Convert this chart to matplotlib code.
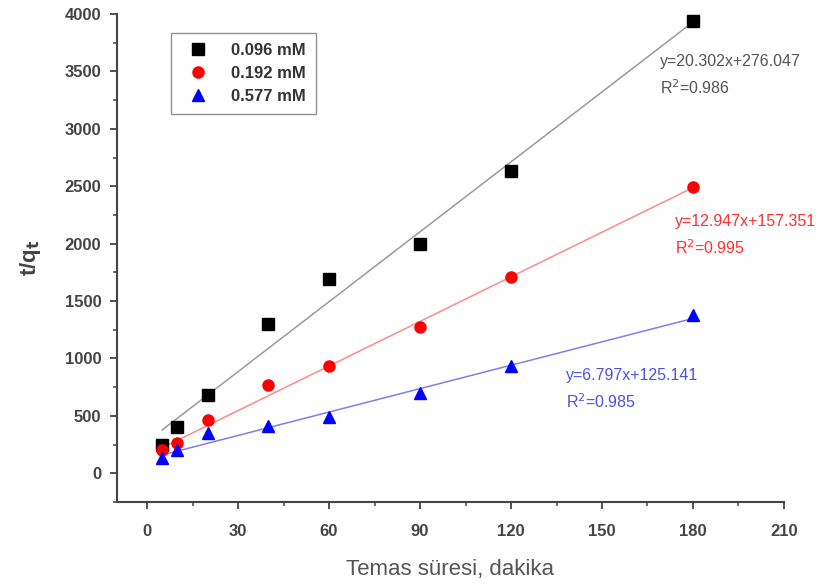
import numpy as np
import matplotlib
matplotlib.use("Agg")
import matplotlib.pyplot as plt
from matplotlib.ticker import MultipleLocator

plt.rcParams["font.family"] = ["Liberation Sans", "DejaVu Sans"]

# contact time, minutes
time_min = [5, 10, 20, 40, 60, 90, 120, 180]

# t/qt values
tq_0096 = [250, 400, 680, 1300, 1690, 2000, 2630, 3940]
tq_0192 = [200, 260, 460, 770, 930, 1270, 1710, 2490]
tq_0577 = [130, 200, 350, 410, 490, 700, 930, 1380]

labels = ["0.096 mM", "0.192 mM", "0.577 mM"]
slopes = [20.302, 12.947, 6.797]
intercepts = [276.047, 157.351, 125.141]
r2 = ["0.986", "0.995", "0.985"]

fig = plt.figure(figsize=(8.34, 5.85), dpi=100)
ax = fig.add_axes([0.140, 0.142, 0.800, 0.834])

series = [tq_0096, tq_0192, tq_0577]
markers = ["s", "o", "^"]
colors = ["black", "red", "blue"]
fit_colors = ["#9a9a9a", "#ff8a8a", "#8080e8"]
text_colors = ["#555555", "#ff3030", "#5050e0"]
text_pos = [(169, 3583, 3357), (174, 2191, 1965), (138, 852, 626)]

for ys, m, c, fc, tc, lab, a, b, r, tp in zip(series, markers, colors, fit_colors,
                                              text_colors, labels, slopes, intercepts,
                                              r2, text_pos):
    xs = np.array([time_min[0], time_min[-1]])
    ax.plot(xs, a * xs + b, color=fc, lw=1.1, zorder=1)
    ax.plot(time_min, ys, linestyle="none", marker=m, color=c, markersize=8,
            label=lab, zorder=2)
    ax.text(tp[0], tp[1], f"y={a:.3f}x+{b:.3f}", color=tc, fontsize=11.5, va="center")
    ax.text(tp[0], tp[2], f"R$^2$={r}", color=tc, fontsize=11.5, va="center")

ax.set_xlim(-10, 210)
ax.set_ylim(-250, 4000)
ax.xaxis.set_major_locator(MultipleLocator(30))
ax.xaxis.set_minor_locator(MultipleLocator(15))
ax.yaxis.set_major_locator(MultipleLocator(500))
ax.yaxis.set_minor_locator(MultipleLocator(250))

for s in ["top", "right"]:
    ax.spines[s].set_visible(False)
for s in ["left", "bottom"]:
    ax.spines[s].set_linewidth(1.5)
    ax.spines[s].set_color("#444444")

ax.tick_params(which="major", direction="out", length=5, width=1.3, color="#444444",
               labelsize=12, labelcolor="#444444", pad=6)
ax.tick_params(axis="x", which="major", pad=11)
ax.tick_params(which="minor", direction="out", length=3, width=1.1, color="#444444")
for t in ax.get_xticklabels() + ax.get_yticklabels():
    t.set_fontweight("bold")

ax.set_xlabel("Temas süresi, dakika", fontsize=16, color="#555555", labelpad=14)
ax.set_ylabel("t/q$_\\mathbf{t}$", fontsize=16, fontweight="bold", color="#444444", labelpad=16)

leg = ax.legend(loc="upper left", bbox_to_anchor=(0.082, 0.961), frameon=True,
                fancybox=False, edgecolor="#777777", prop={"weight": "bold", "size": 12},
                handletextpad=1.0, borderpad=0.6, labelspacing=0.48, borderaxespad=0)
for t in leg.get_texts():
    t.set_color("#333333")

fig.savefig("out.png", dpi=100)
